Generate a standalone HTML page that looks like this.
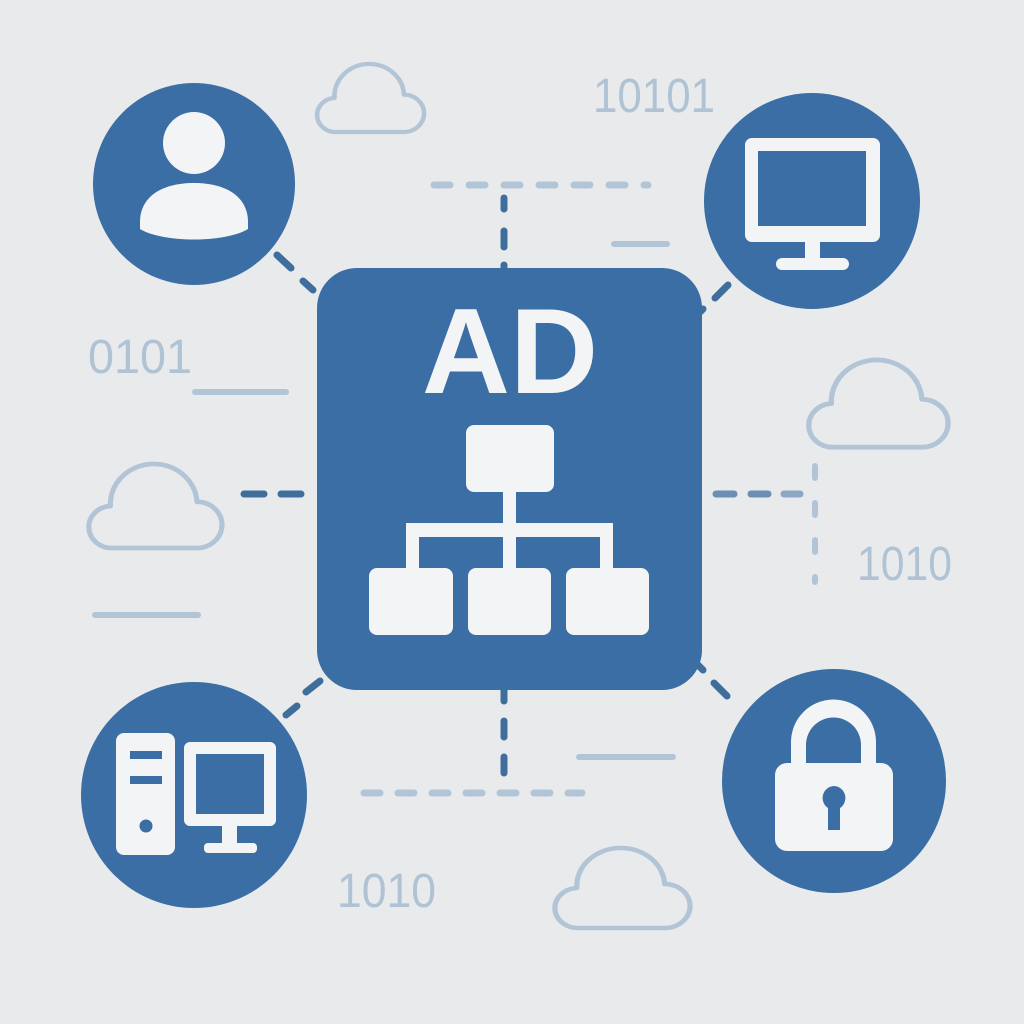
<!DOCTYPE html>
<html><head><meta charset="utf-8"><style>html,body{margin:0;padding:0;background:#e9eaec}svg{display:block}</style></head>
<body>
<svg width="1024" height="1024" viewBox="0 0 1024 1024" xmlns="http://www.w3.org/2000/svg">
<rect width="1024" height="1024" fill="#e9eaec"/>
<defs>
<path id="cl" d="M30,82 H104 A22,22 0 0 0 104,38 A38,38 0 0 0 28,42 A20,20 0 0 0 30,82 Z"/>
</defs>
<g fill="none" stroke="#b2c5d7" stroke-width="5" stroke-linecap="round" stroke-linejoin="round">
 <use href="#cl" transform="translate(308.9,62.3) scale(0.914,0.85)"/>
 <use href="#cl" transform="translate(78.6,461.9) scale(1.138,1.05)" stroke-width="4.5"/>
 <use href="#cl" transform="translate(798.1,357.8) scale(1.19,1.09)" stroke-width="4.4"/>
 <use href="#cl" transform="translate(544.5,846) scale(1.155,1.0)" stroke-width="4.5"/>
 <line x1="434" y1="185" x2="648" y2="185" stroke-width="7" stroke-dasharray="16,19"/>
 <line x1="614" y1="244" x2="667" y2="244" stroke-width="6"/>
 <line x1="195" y1="392" x2="286" y2="392" stroke-width="6"/>
 <line x1="95" y1="615" x2="198" y2="615" stroke-width="6"/>
 <line x1="815" y1="466" x2="815" y2="582" stroke-width="6" stroke-dasharray="12,25"/>
 <line x1="364" y1="793" x2="582" y2="793" stroke-width="7" stroke-dasharray="16,18"/>
 <line x1="579" y1="757" x2="673" y2="757" stroke-width="6"/>
</g>
<g fill="#b0c3d5" font-family="Liberation Sans, sans-serif" font-size="48">
 <text x="593" y="112" textLength="122" lengthAdjust="spacingAndGlyphs">10101</text>
 <text x="88" y="373" textLength="104" lengthAdjust="spacingAndGlyphs">0101</text>
 <text x="857" y="580" textLength="95" lengthAdjust="spacingAndGlyphs">1010</text>
 <text x="337" y="907" textLength="99" lengthAdjust="spacingAndGlyphs">1010</text>
</g>
<g stroke="#3f6d9c" stroke-width="7" stroke-linecap="round" fill="none">
 <line x1="504" y1="198" x2="504" y2="209"/><line x1="504" y1="231" x2="504" y2="247"/><line x1="504" y1="265" x2="504" y2="270"/>
 <line x1="244" y1="494" x2="264" y2="494"/><line x1="281" y1="494" x2="301" y2="494"/>
 <line x1="716" y1="494" x2="734" y2="494" stroke="#6b8eb2"/><line x1="751" y1="494" x2="768" y2="494" stroke="#6b8eb2"/><line x1="784" y1="494" x2="800" y2="494" stroke="#8ba7c4"/>
 <line x1="504" y1="690" x2="504" y2="701"/><line x1="504" y1="721" x2="504" y2="737"/><line x1="504" y1="757" x2="504" y2="773"/>
 <line x1="277" y1="255" x2="291" y2="268"/><line x1="303" y1="281" x2="313" y2="290"/>
 <line x1="715" y1="298" x2="728" y2="285"/><line x1="700" y1="312" x2="703" y2="309"/>
 <line x1="286" y1="715" x2="297" y2="706"/><line x1="306" y1="692" x2="320" y2="681"/>
 <line x1="697" y1="664" x2="703" y2="670"/><line x1="714" y1="683" x2="727" y2="696"/>
</g>
<rect x="317" y="268" width="385" height="422" rx="40" fill="#3a6ea4"/>
<text x="510" y="393" text-anchor="middle" font-family="Liberation Sans, sans-serif" font-weight="bold" font-size="122" fill="#f3f4f5">AD</text>
<g fill="#f3f4f5">
 <rect x="466" y="425" width="88" height="67" rx="8"/>
 <rect x="503" y="490" width="13" height="40"/>
 <rect x="406" y="523" width="207" height="14" rx="4"/>
 <rect x="406" y="523" width="13" height="48"/>
 <rect x="600" y="523" width="13" height="48"/>
 <rect x="503" y="530" width="13" height="40"/>
 <rect x="369" y="568" width="84" height="67" rx="8"/>
 <rect x="468" y="568" width="83" height="67" rx="8"/>
 <rect x="566" y="568" width="83" height="67" rx="8"/>
</g>
<g fill="#3a6ea4">
 <circle cx="194" cy="184" r="101"/>
 <circle cx="812" cy="201" r="108"/>
 <circle cx="194" cy="795" r="113"/>
 <circle cx="834" cy="781" r="112"/>
</g>
<g fill="#f3f4f5">
 <circle cx="194" cy="143" r="31"/>
 <path d="M140,222 C140,198 160,183 194,183 C228,183 248,198 248,222 L248,229 C225,243 163,243 140,229 Z"/>
 <path fill-rule="evenodd" d="M752,138 H873 A7,7 0 0 1 880,145 V235 A7,7 0 0 1 873,242 H752 A7,7 0 0 1 745,235 V145 A7,7 0 0 1 752,138 Z M758,151 V226 H866 V151 Z"/>
 <rect x="805" y="240" width="15" height="22"/>
 <rect x="776" y="258" width="73" height="12" rx="6"/>
 <path fill-rule="evenodd" d="M124,733 H167 A8,8 0 0 1 175,741 V847 A8,8 0 0 1 167,855 H124 A8,8 0 0 1 116,847 V741 A8,8 0 0 1 124,733 Z M130,751 V759 H162 V751 Z M130,776 V784 H162 V776 Z"/>
 <circle cx="146" cy="826" r="6.5" fill="#3a6ea4"/>
 <path fill-rule="evenodd" d="M190,742 H270 A6,6 0 0 1 276,748 V820 A6,6 0 0 1 270,826 H190 A6,6 0 0 1 184,820 V748 A6,6 0 0 1 190,742 Z M196,754 V814 H264 V754 Z"/>
 <rect x="222" y="824" width="15" height="22"/>
 <rect x="204" y="843" width="53" height="10" rx="4"/>
 <path fill-rule="evenodd" d="M791,765 V742 A42.5,42.5 0 0 1 876,742 V765 H861 V745 A27.5,27.5 0 0 0 806,745 V765 Z"/>
 <path fill-rule="evenodd" d="M787,763 H881 A12,12 0 0 1 893,775 V839 A12,12 0 0 1 881,851 H787 A12,12 0 0 1 775,839 V775 A12,12 0 0 1 787,763 Z M834,786 A12,12 0 0 0 828,808 V830 H840 V808 A12,12 0 0 0 834,786 Z"/>
</g>
</svg>
</body></html>
